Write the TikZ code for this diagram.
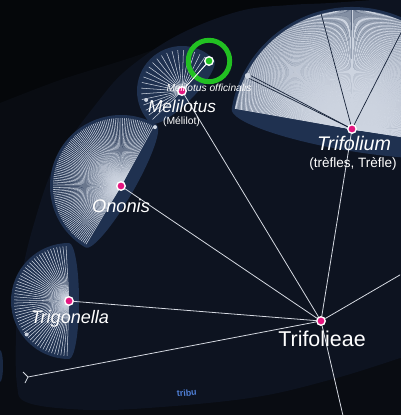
\documentclass[tikz,border=0pt]{standalone}
\usepackage{fontspec}
\setmainfont{Liberation Sans}
\usetikzlibrary{calc}
\definecolor{nightcol}{HTML}{05070A}
\definecolor{hazecol}{HTML}{090C12}
\definecolor{tribecol}{HTML}{0D1320}
\definecolor{fancol}{HTML}{1F3150}
\definecolor{spokecol}{HTML}{CDD4E0}
\definecolor{linkcol}{HTML}{D6DAE2}
\definecolor{pinkcol}{HTML}{E3167F}
\definecolor{hitcol}{HTML}{22C022}
\definecolor{tagcol}{HTML}{4F7FD6}
\pgfdeclarelayer{back}
\pgfdeclarelayer{fans}
\pgfsetlayers{back,fans,main}
\tikzset{
  taxon/.style = {circle, fill=pinkcol, draw=white, line width=0.8pt,
                  minimum size=1.7mm, inner sep=0pt},
  hit/.style   = {taxon, fill=hitcol},
  ring/.style  = {circle, draw=hitcol, line width=2.8pt, minimum size=8.3mm,
                  inner sep=0pt},
  stub/.style  = {circle, fill=spokecol, minimum size=0.8mm, inner sep=0pt},
  fan/.style   = {fill=fancol},
  spoke/.style = {draw=spokecol, line width=0.3pt},
  gap/.style   = {draw=fancol!70!black, line width=0.4pt},
  link/.style  = {draw=linkcol, line width=0.45pt},
  genus/.style = {text=white, inner sep=0pt, anchor=base},
  vern/.style  = {text=white, inner sep=0pt, anchor=base},
}

\begin{document}
\begin{tikzpicture}[x=0.02cm, y=-0.02cm]
  \useasboundingbox (0,0) rectangle (400,415);
  \clip (0,0) rectangle (400,415);

  %% ---------------- the taxa ----------------
  \node[taxon] (tribe) at (321,321) {};
  \node[taxon] (trig)  at (69,301) {};
  \node[taxon] (ono)   at (121,186) {};
  \node[taxon] (meli)  at (182,91) {};
  \node[taxon] (trif)  at (352,129) {};
  \node[hit]   (offi)  at (209,61) {};
  \node[ring]  (focus) at (offi) {};

  \coordinate (offE)  at (405,272);
  \coordinate (offS)  at (344,420);
  \coordinate (fork)  at (28,377);
  \coordinate (forka) at (23,372);
  \coordinate (forkb) at (25,383);

  %% ---------------- the tribe and the haze ----------------
  \begin{pgfonlayer}{back}
    \fill[nightcol] (0,0) rectangle (400,415);
    \fill[hazecol] plot[smooth] coordinates {(0,103) (60,80) (130,58) (250,18) (400,-3)}
         -- (420,-10) -- (420,430) -- (-10,430) -- cycle;
    \fill[tribecol] plot[smooth, tension=0.6] coordinates {(400,-2) (330,3) (290,5)
         (240,11) (180,34) (130,67) (100,99) (57,160) (33,227) (20,285) (16,335)
         (17,385) (26,402) (70,409) (133,409) (250,398) (333,379) (400,358)}
         -- (420,360) -- (420,-10) -- cycle;
    \fill[fancol!70!tribecol] (0,366) ellipse (3 and 16);
  \end{pgfonlayer}

  %% ---------------- the genus fans ----------------
  \begin{pgfonlayer}{fans}
    % Trigonella
    \begin{scope}[shift={(trig)}]
      \fill[fan] (90:58) arc[start angle=90, end angle=270, radius=58]
                 arc[start angle=-90, end angle=90, x radius=10, y radius=58];
      \foreach \a in {92,95.3,...,268} \draw[spoke] (0,0) -- (\a:55);
      \node[stub] (trigstub) at (141.7:54) {};
    \end{scope}
    % Ononis
    \begin{scope}[shift={(ono)}, rotate=-30]
      \fill[fan] (90:71) arc[start angle=90, end angle=270, radius=71]
                 arc[start angle=-90, end angle=90, x radius=13, y radius=71];
      \foreach \a in {91,92.6,...,269} \draw[spoke] (0,0) -- (\a:68);
      \node[stub] (onostub) at (270:68) {};
    \end{scope}
    % Melilotus
    \begin{scope}[shift={(meli)}, rotate=-45]
      \fill[fan] (90:45) arc[start angle=90, end angle=270, radius=45]
                 arc[start angle=-90, end angle=90, x radius=12, y radius=45];
      \foreach \a in {91,99,...,267} \draw[spoke] (0,0) -- (\a:41);
      \node[stub] (melistub) at (121:37) {};
    \end{scope}
    % Trifolium
    \begin{scope}[shift={(trif)}, rotate=-99.5]
      \fill[fan] (90:122) arc[start angle=90, end angle=270, radius=122]
                 arc[start angle=-90, end angle=90, x radius=22, y radius=122];
      \foreach \a in {90.5,91,...,269.5} \draw[spoke, line width=0.4pt] (0,0) -- (\a:119);
      \foreach \a in {106.7,108.3,155.5,197.5} \draw[gap] (0,0) -- (\a:119);
      \node[stub, minimum size=1.2mm] (trifstub) at (107.5:117) {};
    \end{scope}
  \end{pgfonlayer}

  %% ---------------- the links ----------------
  \draw[link] (tribe) -- (trig);
  \draw[link] (tribe) -- (ono);
  \draw[link] (tribe) -- (meli);
  \draw[link] (tribe) -- (trif);
  \draw[link] (tribe) -- (offE);
  \draw[link] (tribe) -- (offS);
  \draw[link] (tribe) -- (fork);
  \draw[link] (forka) -- (fork) -- (forkb);
  \draw[link, draw=white] (meli) -- (offi);

  %% ---------------- the names ----------------
  \node[genus, font=\itshape\fontsize{5.8}{7}\selectfont] (offilbl) at (209,92) {Melilotus officinalis};
  \node[genus, font=\itshape\fontsize{9.8}{11}\selectfont] (melilbl) at (182,113) {Melilotus};
  \node[vern, font=\fontsize{5.9}{7}\selectfont] (melivern) at (181.5,125) {(Mélilot)};
  \node[genus, font=\itshape\fontsize{11.2}{13}\selectfont] (triflbl) at (354,151) {Trifolium};
  \node[vern, font=\fontsize{7.7}{9}\selectfont] (trifvern) at (353,168) {(trèfles, Trèfle)};
  \node[genus, font=\itshape\fontsize{10.4}{12}\selectfont] (onolbl) at (121,212) {Ononis};
  \node[genus, font=\itshape\fontsize{10.3}{12}\selectfont] (triglbl) at (70,323.5) {Trigonella};
  \node[vern, font=\fontsize{12.2}{14}\selectfont] (tribelbl) at (322,346) {Trifolieae};
  \node[vern, text=tagcol, font=\bfseries\fontsize{5.1}{6}\selectfont, rotate=5] (rank) at (187,396) {tribu};

\end{tikzpicture}
\end{document}
